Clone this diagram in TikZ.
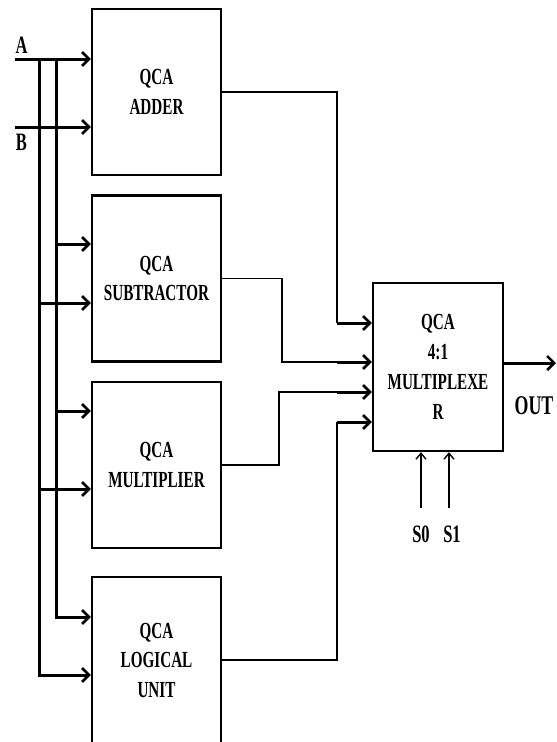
\documentclass[tikz,border=0pt]{standalone}
\usepackage{fontspec}
\setmainfont{Liberation Serif}[FakeStretch=0.66]
\usetikzlibrary{arrows.meta}
\begin{document}
\begin{tikzpicture}[x=1pt,y=-1pt,
  blk/.style={draw, line width=2.3pt, minimum width=129pt, minimum height=166pt,
    align=center, inner sep=0pt, font=\fontsize{23}{29.5}\selectfont\bfseries},
  lbl/.style={inner sep=0pt, font=\fontsize{25}{28}\selectfont\bfseries},
  inp/.style={line width=3pt, -{Straight Barb[length=7pt,width=14pt,line width=2.6pt]}},
  conn/.style={line width=1.8pt},
  arr/.style={line width=3pt, -{Straight Barb[length=7pt,width=14pt,line width=2.6pt]}},
  sarr/.style={line width=1.5pt, -{Straight Barb[length=6pt,width=10pt,line width=1.4pt]}}]
\useasboundingbox (0,0) rectangle (557,742);
% blocks
\node[blk] (add) at (156.5,92) {QCA\\ADDER};
\node[blk] (sub) at (156.5,278.5) {QCA\\SUBTRACTOR};
\node[blk] (mul) at (156.5,465) {QCA\\MULTIPLIER};
\node[blk] (lu)  at (156.5,660) {QCA\\LOGICAL\\UNIT};
\node[blk, minimum width=130pt, minimum height=168pt, font=\fontsize{23}{30}\selectfont\bfseries] (mux) at (438,367) {QCA\\4:1\\MULTIPLEXE\\R};
% labels
\node[lbl] (A) at (21.5,45) {A};
\node[lbl] (B) at (21.5,142) {B};
\node[lbl, font=\fontsize{27}{30}\selectfont\bfseries] (out) at (534,406) {OUT};
\node[lbl] (s0l) at (421,534) {S0};
\node[lbl] (s1l) at (452,534) {S1};
% inputs
\coordinate (a0) at (15,59);
\coordinate (b0) at (15,127);
\coordinate (v1) at (39,59);
\coordinate (v2) at (56,59);
\draw[inp] (a0) -- (add.west |- a0);
\draw[inp] (b0) -- (add.west |- b0);
\draw[inp] (v2) |- (lu.west |- 0,617);
\draw[inp] (v1) |- (lu.west |- 0,675);
\draw[inp] (v2 |- 0,244) -- (sub.west |- 0,244);
\draw[inp] (v1 |- 0,303) -- (sub.west |- 0,303);
\draw[inp] (v2 |- 0,411) -- (mul.west |- 0,411);
\draw[inp] (v1 |- 0,489) -- (mul.west |- 0,489);
% outputs to mux
\coordinate (j1) at (337,323);
\coordinate (j2) at (337,362);
\coordinate (j3) at (337,392);
\coordinate (j4) at (337,422);
\draw[conn] (add.east) -| (j1);
\draw[conn] (sub.east) -| (282,362) -- (j2);
\draw[conn] (mul.east) -| (279,392) -- (j3);
\draw[conn] (lu.east) -| (j4);
\draw[arr] (j1) -- (mux.west |- j1);
\draw[arr] (j2) -- (mux.west |- j2);
\draw[arr] (j3) -- (mux.west |- j3);
\draw[arr] (j4) -- (mux.west |- j4);
% output
\coordinate (o) at (556,363);
\draw[arr] (mux.east |- o) -- (o);
% selects
\coordinate (s0) at (421,508);
\coordinate (s1) at (449,508);
\draw[sarr] (s0) -- (s0 |- mux.south);
\draw[sarr] (s1) -- (s1 |- mux.south);
\end{tikzpicture}
\end{document}
